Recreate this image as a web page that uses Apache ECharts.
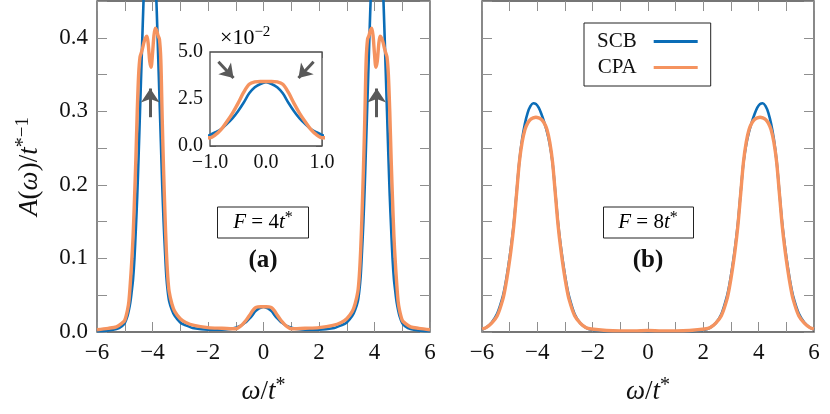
<!DOCTYPE html>
<html>
<head>
<meta charset="utf-8">
<script src="https://cdn.jsdelivr.net/npm/echarts@6/dist/echarts.min.js"></script>
<style>html,body{margin:0;padding:0;background:#fff;}#c{width:830px;height:414px;}</style>
</head>
<body>
<div id="c"></div>
<script>
// ---------- data ----------
// Panel (a): F = 4t*
const omegaA = [-6.0,-5.6,-5.3,-5.1,-5.0,-4.9,-4.85,-4.8,-4.75,-4.7,-4.65,-4.6,-4.55,-4.5,-4.45,-4.4,-4.35,-4.3,-4.25,-4.2,-4.15,-4.1,-4.05,-4.0,-3.95,-3.9,-3.85,-3.8,-3.75,-3.7,-3.65,-3.6,-3.55,-3.5,-3.45,-3.4,-3.3,-3.2,-3.0,-2.8,-2.5,-2.0,-1.5,-1.2,-1.0,-0.9,-0.8,-0.7,-0.6,-0.5,-0.4,-0.3,-0.2,-0.1,0,
  0.1,0.2,0.3,0.4,0.5,0.6,0.7,0.8,0.9,1.0,1.2,1.5,2.0,2.5,2.8,3.0,3.2,3.3,3.4,3.45,3.5,3.55,3.6,3.65,3.7,3.75,3.8,3.85,3.9,3.95,4.0,4.05,4.1,4.15,4.2,4.25,4.3,4.35,4.4,4.45,4.5,4.55,4.6,4.65,4.7,4.75,4.8,4.85,4.9,5.0,5.1,5.3,5.6,6.0];
const scbA = [0.001,0.002,0.004,0.008,0.012,0.022,0.030,0.040,0.055,0.072,0.100,0.140,0.185,0.240,0.300,0.360,0.420,0.475,0.520,0.560,0.585,0.595,0.590,0.570,0.540,0.490,0.440,0.380,0.320,0.260,0.200,0.150,0.110,0.075,0.055,0.042,0.030,0.022,0.013,0.009,0.005,0.003,0.003,0.004,0.0059,0.0073,0.0090,0.0117,0.0147,0.0185,0.0230,0.0280,0.0312,0.0330,0.0339,
  0.0330,0.0312,0.0280,0.0230,0.0185,0.0147,0.0117,0.0090,0.0073,0.0059,0.004,0.003,0.003,0.005,0.009,0.013,0.022,0.030,0.042,0.055,0.075,0.110,0.150,0.200,0.260,0.320,0.380,0.440,0.490,0.540,0.570,0.590,0.595,0.585,0.560,0.520,0.475,0.420,0.360,0.300,0.240,0.185,0.140,0.100,0.072,0.055,0.040,0.030,0.022,0.012,0.008,0.004,0.002,0.001];
const cpaA = [0.003,0.005,0.007,0.012,0.016,0.030,0.042,0.066,0.095,0.130,0.180,0.235,0.300,0.350,0.374,0.380,0.387,0.395,0.400,0.402,0.390,0.368,0.360,0.378,0.402,0.413,0.410,0.403,0.398,0.370,0.290,0.220,0.160,0.110,0.075,0.055,0.038,0.028,0.018,0.013,0.009,0.006,0.005,0.0045,0.0044,0.0060,0.0088,0.0129,0.0174,0.0227,0.0285,0.0328,0.0341,0.0343,0.0343,
  0.0343,0.0341,0.0328,0.0285,0.0227,0.0174,0.0129,0.0088,0.0060,0.0044,0.0045,0.005,0.006,0.009,0.013,0.018,0.028,0.038,0.055,0.075,0.110,0.160,0.220,0.290,0.370,0.398,0.403,0.410,0.413,0.402,0.378,0.360,0.368,0.390,0.402,0.400,0.395,0.387,0.380,0.374,0.350,0.300,0.235,0.180,0.130,0.095,0.066,0.042,0.030,0.016,0.012,0.007,0.005,0.003];

// Panel (b): F = 8t*
const omegaB = [-6.0,-5.85,-5.65,-5.45,-5.25,-5.15,-5.05,-4.95,-4.85,-4.75,-4.65,-4.55,-4.45,-4.35,-4.25,-4.15,-4.05,-3.95,-3.85,-3.75,-3.65,-3.55,-3.45,-3.35,-3.25,-3.15,-3.05,-2.95,-2.85,-2.65,-2.45,-2.25,-2.05,-1.5,-1.0,-0.5,0,
  0.5,1.0,1.5,2.05,2.25,2.45,2.65,2.85,2.95,3.05,3.15,3.25,3.35,3.45,3.55,3.65,3.75,3.85,3.95,4.05,4.15,4.25,4.35,4.45,4.55,4.65,4.75,4.85,4.95,5.05,5.15,5.25,5.45,5.65,5.85,6.0];
const scbB = [0.003,0.006,0.013,0.025,0.048,0.066,0.089,0.116,0.148,0.190,0.232,0.262,0.283,0.298,0.307,0.311,0.310,0.305,0.296,0.285,0.272,0.255,0.230,0.190,0.148,0.116,0.089,0.066,0.048,0.024,0.012,0.006,0.003,0.001,0.001,0.001,0.001,
  0.001,0.001,0.001,0.003,0.006,0.012,0.024,0.048,0.066,0.089,0.116,0.148,0.190,0.230,0.255,0.272,0.285,0.296,0.305,0.310,0.311,0.307,0.298,0.283,0.262,0.232,0.190,0.148,0.116,0.089,0.066,0.048,0.025,0.013,0.006,0.003];
const cpaB = [0.004,0.006,0.012,0.022,0.044,0.062,0.085,0.112,0.145,0.188,0.231,0.258,0.275,0.284,0.289,0.291,0.292,0.291,0.289,0.284,0.275,0.258,0.231,0.188,0.145,0.112,0.085,0.062,0.044,0.022,0.012,0.006,0.004,0.002,0.0015,0.0015,0.002,
  0.0015,0.0015,0.002,0.004,0.006,0.012,0.022,0.044,0.062,0.085,0.112,0.145,0.188,0.231,0.258,0.275,0.284,0.289,0.291,0.292,0.291,0.289,0.284,0.275,0.258,0.231,0.188,0.145,0.112,0.085,0.062,0.044,0.022,0.012,0.006,0.004];

// arrows (data coordinates)
const mainArrows = [[[-4.08,0.292],[-4.08,0.331]],[[4.08,0.292],[4.08,0.331]]];
const insetArrows = [[[-0.85,0.0448],[-0.58,0.0362]],[[0.85,0.0448],[0.58,0.0362]]];

// ---------- styling ----------
const FONT = 'Liberation Serif';
const TXT = '#111';
const FRAME = '#4a4a4a';
const TICK = '#8f8f8f';
const BLUE = '#0b6db7';
const ORANGE = '#f5935f';
const ARROW = '#595959';

const pairs = (xs, ys) => xs.map((x, i) => [x, ys[i]]);
const minus = v => (v < 0 ? '\u2212' + Math.abs(v) : String(v));
const richMath = size => ({
  i: {fontFamily: FONT, fontStyle: 'italic', fontSize: size, color: TXT, lineHeight: Math.round(size * 1.2)},
  n: {fontFamily: FONT, fontSize: size, color: TXT, lineHeight: Math.round(size * 1.2)},
  s: {fontFamily: FONT, fontSize: Math.round(size * 0.7), color: TXT, verticalAlign: 'top', lineHeight: Math.round(size * 0.6)},
  a: {fontFamily: FONT, fontSize: Math.round(size * 0.75), color: TXT, verticalAlign: 'top', lineHeight: Math.round(size * 1.0)}
});

function xAx(g, pos, labels, name) {
  return {
    type: 'value', gridIndex: g, position: pos, min: -6, max: 6, interval: 1,
    axisLine: {show: false, onZero: false},
    axisTick: {show: true, inside: true, length: 10, lineStyle: {color: TICK, width: 1}},
    splitLine: {show: false},
    axisLabel: {show: labels, margin: 9, fontFamily: FONT, fontSize: 23, color: TXT,
      formatter: v => (Math.round(v) % 2 === 0 ? minus(Math.round(v)) : '')},
    name: name || '', nameLocation: 'middle', nameGap: 44,
    nameTextStyle: {rich: richMath(27)}
  };
}
function yAx(g, pos, labels, name) {
  return {
    type: 'value', gridIndex: g, position: pos, min: 0, max: 0.45, interval: 0.05,
    axisLine: {show: false, onZero: false},
    axisTick: {show: true, inside: true, length: 10, lineStyle: {color: TICK, width: 1}},
    splitLine: {show: false},
    axisLabel: {show: labels, margin: 9, fontFamily: FONT, fontSize: 23, color: TXT,
      formatter: v => (Math.round(v * 100) % 10 === 0 ? v.toFixed(1) : '')},
    name: name || '', nameLocation: 'middle', nameGap: 51, nameRotate: 90,
    nameTextStyle: {rich: richMath(27)}
  };
}
function xIn(pos, labels) {
  return {
    type: 'value', gridIndex: 2, position: pos, min: -1, max: 1, interval: 0.5,
    axisLine: {show: false, onZero: false},
    axisTick: {show: true, inside: true, length: 6, lineStyle: {color: TICK, width: 1}},
    splitLine: {show: false},
    axisLabel: {show: labels, margin: 7, fontFamily: FONT, fontSize: 20, color: TXT,
      formatter: v => (Math.abs(v * 2) % 2 === 0 ? (v < 0 ? '\u2212' : '') + Math.abs(v).toFixed(1) : '')}
  };
}
function yIn(pos, labels) {
  return {
    type: 'value', gridIndex: 2, position: pos, min: 0, max: 0.05, interval: 0.0125,
    axisLine: {show: false, onZero: false},
    axisTick: {show: true, inside: true, length: 6, lineStyle: {color: TICK, width: 1}},
    splitLine: {show: false},
    axisLabel: {show: labels, margin: 7, fontFamily: FONT, fontSize: 20, color: TXT,
      formatter: v => (Math.round(v * 10000) % 250 === 0 ? (v * 100).toFixed(1) : '')}
  };
}
function line(name, xi, yi, data, color, width, z, extra) {
  return Object.assign({
    name: name, type: 'line', xAxisIndex: xi, yAxisIndex: yi, data: data,
    symbol: 'none', showSymbol: false, smooth: 0.3, clip: true,
    lineStyle: {color: color, width: width}, itemStyle: {color: color}, z: z
  }, extra || {});
}
function arrowLine(list, size) {
  return {
    silent: true, animation: false, symbol: ['none', 'arrow'], symbolSize: size,
    lineStyle: {color: ARROW, width: 3, type: 'solid'}, itemStyle: {color: ARROW},
    label: {show: false}, emphasis: {disabled: true},
    data: list.map(a => [{coord: a[0]}, {coord: a[1]}])
  };
}

const xName = '{i|ω}{n|/}{i|t}{a|*}';
const yName = '{i|A}{n|(}{i|ω}{n|)/}{i|t}{a|*}{s|−1}';

const option = {
  animation: false,
  backgroundColor: '#fff',
  grid: [
    {left: 97, top: 1, width: 333, height: 331, show: true, borderColor: FRAME, borderWidth: 1.3, backgroundColor: 'transparent'},
    {left: 482, top: 1, width: 332, height: 331, show: true, borderColor: FRAME, borderWidth: 1.3, backgroundColor: 'transparent'},
    {left: 210, top: 52, width: 112, height: 94, show: true, borderColor: FRAME, borderWidth: 1.3, backgroundColor: '#fff', z: 5}
  ],
  xAxis: [
    xAx(0, 'bottom', true, xName), xAx(0, 'top', false),
    xAx(1, 'bottom', true, xName), xAx(1, 'top', false),
    xIn('bottom', true), xIn('top', false)
  ],
  yAxis: [
    yAx(0, 'left', true, yName), yAx(0, 'right', false),
    yAx(1, 'left', false), yAx(1, 'right', false),
    yIn('left', true), yIn('right', false)
  ],
  legend: {
    data: [{name: 'SCB', icon: 'rect'}, {name: 'CPA', icon: 'rect'}],
    orient: 'vertical', left: 584, top: 23, align: 'right',
    itemWidth: 44, itemHeight: 3, itemGap: 5, padding: [8, 13, 8, 13],
    borderColor: '#222', borderWidth: 1, backgroundColor: '#fff',
    selectedMode: false,
    textStyle: {fontFamily: FONT, fontSize: 21, color: TXT, lineHeight: 20, padding: [0, 12, 0, 0]}
  },
  graphic: [
    {type: 'rect', z: 50, shape: {x: 217.5, y: 207, width: 91, height: 31}, style: {fill: '#fff', stroke: '#222', lineWidth: 1}},
    {type: 'text', z: 51, x: 263, y: 222.5, style: {text: '{i|F}{n| = 4}{i|t}{a|*}', rich: richMath(21), textAlign: 'center', textVerticalAlign: 'middle'}},
    {type: 'text', z: 51, x: 263, y: 261, style: {text: '(a)', fontFamily: FONT, fontWeight: 'bold', fontSize: 25, fill: TXT, textAlign: 'center', textVerticalAlign: 'middle'}},
    {type: 'rect', z: 50, shape: {x: 603.5, y: 207, width: 90, height: 31}, style: {fill: '#fff', stroke: '#222', lineWidth: 1}},
    {type: 'text', z: 51, x: 648, y: 222.5, style: {text: '{i|F}{n| = 8}{i|t}{a|*}', rich: richMath(21), textAlign: 'center', textVerticalAlign: 'middle'}},
    {type: 'text', z: 51, x: 648, y: 261, style: {text: '(b)', fontFamily: FONT, fontWeight: 'bold', fontSize: 25, fill: TXT, textAlign: 'center', textVerticalAlign: 'middle'}},
    {type: 'text', z: 51, x: 220, y: 38, style: {text: '{n|×10}{s|−2}', rich: richMath(22), textAlign: 'left', textVerticalAlign: 'middle'}}
  ],
  series: [
    line('SCB', 0, 0, pairs(omegaA, scbA), BLUE, 2.6, 3),
    line('CPA', 0, 0, pairs(omegaA, cpaA), ORANGE, 3.4, 4, {markLine: arrowLine(mainArrows, 14)}),
    line('SCB', 2, 2, pairs(omegaB, scbB), BLUE, 2.6, 3),
    line('CPA', 2, 2, pairs(omegaB, cpaB), ORANGE, 3.4, 4),
    line('SCB', 4, 4, pairs(omegaA, scbA), BLUE, 2.6, 6),
    line('CPA', 4, 4, pairs(omegaA, cpaA), ORANGE, 3.4, 7, {markLine: arrowLine(insetArrows, 13)})
  ]
};

const chart = echarts.init(document.getElementById('c'), null, {renderer: 'canvas'});
chart.setOption(option);
</script>
</body>
</html>
